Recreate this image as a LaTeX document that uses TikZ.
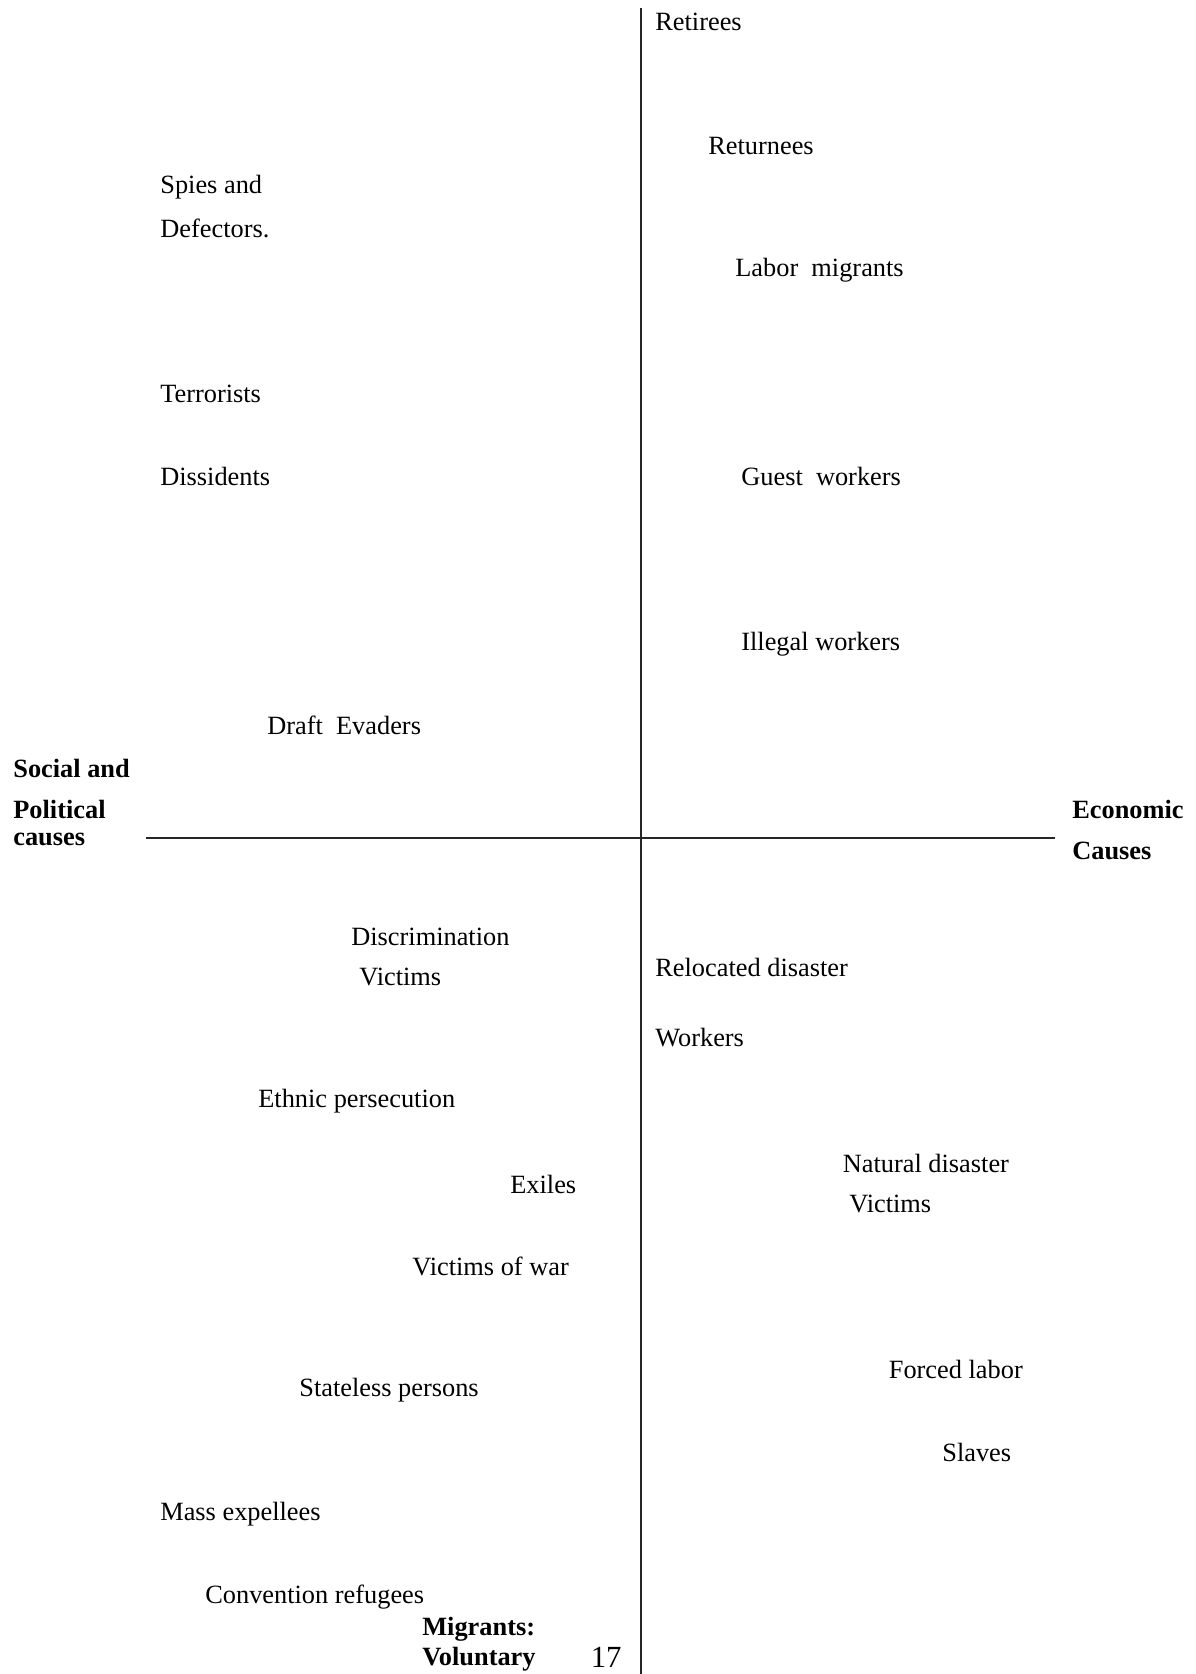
\documentclass[tikz,border=0pt]{standalone}
\usepackage{fontspec}
\setmainfont{Liberation Serif}
\usepackage{tikz}
\usetikzlibrary{positioning}
\tikzstyle{entry} = [anchor=west, inner sep=0pt, font=\fontsize{15}{18}\selectfont]
\tikzstyle{axistitle} = [anchor=west, inner sep=0pt, font=\fontsize{15}{18}\selectfont\bfseries]
\tikzstyle{axis} = [line width=0.8pt, color=black!85]

\begin{document}
\begin{tikzpicture}[x=0.02cm, y=-0.02cm]
\useasboundingbox (0,0) rectangle (1196,1674);

% Axes
\coordinate (top) at (641,8);
\coordinate (bottom) at (641,1674);
\coordinate (west) at (146,838);
\coordinate (east) at (1055,838);
\draw[axis] (top) -- (bottom);
\draw[axis] (west) -- (east);

% Axis titles
\node[axistitle] (social) at (13,768) {Social and};
\node[axistitle] (political) at (13,809) {Political};
\node[axistitle] (causes) at (13,839) {causes};
\node[axistitle] (economic) at (1072,809) {Economic};
\node[axistitle] (ecauses) at (1072,851) {Causes};
\node[axistitle] (migrants) at (422,1629.5) {Migrants:};
\node[axistitle] (voluntary) at (422,1659.5) {Voluntary};
\node[entry, font=\fontsize{17.5}{20}\selectfont] (page) at (590.5,1657) {17};

% Upper left
\node[entry] (spies) at (160,187) {Spies and};
\node[entry] (defectors) at (160,228.5) {Defectors.};
\node[entry] (terrorists) at (160,394) {Terrorists};
\node[entry] (dissidents) at (160,476) {Dissidents};
\node[entry] (draft) at (267,725) {Draft\ \ Evaders};

% Upper right
\node[entry] (retirees) at (655,22) {Retirees};
\node[entry] (returnees) at (708,146) {Returnees};
\node[entry] (labor) at (735,270) {Labor\ \ migrants};
\node[entry] (guest) at (741,476) {Guest\ \ workers};
\node[entry] (illegal) at (741,644) {Illegal workers};

% Lower left
\node[entry] (discrim) at (351,936.5) {Discrimination};
\node[entry] (dvictims) at (359,977) {Victims};
\node[entry] (ethnic) at (258,1101) {Ethnic persecution};
\node[entry] (exiles) at (510,1184) {Exiles};
\node[entry] (war) at (412,1266.5) {Victims of war};
\node[entry] (stateless) at (299,1390) {Stateless persons};
\node[entry] (expellees) at (160,1514) {Mass expellees};
\node[entry] (convention) at (205,1597.5) {Convention refugees};

% Lower right
\node[entry] (relocated) at (655,967.5) {Relocated disaster};
\node[entry] (workers) at (655,1038) {Workers};
\node[entry] (natural) at (842.5,1163) {Natural disaster};
\node[entry] (nvictims) at (849,1203.5) {Victims};
\node[entry] (forced) at (888.5,1369) {Forced labor};
\node[entry] (slaves) at (942,1452) {Slaves};
\end{tikzpicture}
\end{document}
